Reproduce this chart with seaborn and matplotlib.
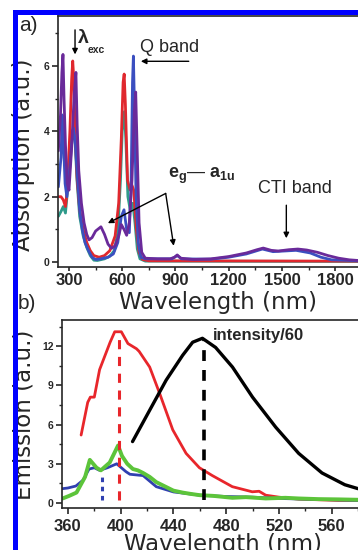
import matplotlib
matplotlib.use("Agg")
import numpy as np
import pandas as pd
import matplotlib.pyplot as plt
from matplotlib.patches import Rectangle
from matplotlib.ticker import MultipleLocator
import seaborn as sns

# ---- panel a: absorption spectra (wavelength nm, absorbance a.u.)
purple_nm = [240, 252, 260, 266, 272, 280, 290, 300, 315, 330, 339, 346, 355, 370, 385, 400, 413, 430,
             450, 480, 500, 520, 540, 560, 580, 595, 610, 625, 640, 655, 668, 676, 684, 695, 710, 730,
             800, 870, 895, 910, 930, 1000, 1100, 1200, 1300, 1360, 1395, 1440, 1480, 1540, 1590,
             1640, 1700, 1760, 1820, 1880, 1930]
purple_abs = [3.4, 4.5, 5.8, 6.35, 5.0, 3.6, 2.4, 2.2, 3.5, 5.2, 5.8, 4.2, 2.8, 1.8, 1.2, 0.85, 0.68, 0.75,
              0.95, 1.08, 0.85, 0.55, 0.42, 0.5, 0.8, 1.15, 1.0, 0.82, 1.2, 2.5, 4.6, 5.2, 3.5, 1.2, 0.3, 0.12,
              0.1, 0.1, 0.15, 0.22, 0.12, 0.08, 0.1, 0.17, 0.28, 0.38, 0.43, 0.36, 0.34, 0.38, 0.4,
              0.37, 0.3, 0.2, 0.12, 0.07, 0.05]
blue_nm = [240, 255, 262, 268, 278, 288, 300, 315, 325, 335, 345, 360, 375, 390, 410, 430, 450, 480,
           520, 550, 575, 595, 610, 625, 640, 650, 658, 663, 668, 678, 690, 705, 730, 880, 910, 935,
           1100, 1200, 1300, 1390, 1450, 1580, 1660, 1720, 1780, 1930]
blue_abs = [2.3, 3.2, 4.5, 3.8, 2.4, 2.0, 2.6, 3.6, 4.1, 3.7, 2.8, 1.6, 1.0, 0.6, 0.35, 0.15, 0.08, 0.1,
            0.15, 0.25, 0.6, 1.4, 1.6, 1.0, 0.9, 2.4, 5.5, 6.3, 5.0, 2.0, 0.6, 0.15, 0.1, 0.1, 0.2, 0.1,
            0.09, 0.15, 0.25, 0.4, 0.32, 0.36, 0.28, 0.15, 0.07, 0.04]
red_nm = [240, 255, 268, 280, 290, 305, 315, 321, 327, 335, 345, 360, 380, 400, 420, 440, 470, 500,
          530, 560, 580, 595, 605, 611, 618, 630, 645, 655, 665, 680, 695, 715, 750, 1930]
red_abs = [2.0, 2.0, 1.9, 1.7, 2.2, 4.0, 5.6, 6.15, 5.6, 4.0, 2.6, 1.6, 1.0, 0.6, 0.35, 0.2, 0.15, 0.2,
           0.35, 0.8, 1.8, 3.8, 5.5, 5.75, 4.8, 2.5, 2.2, 2.35, 2.2, 1.0, 0.3, 0.08, 0.04, 0.03]
teal_nm = [240, 255, 268, 280, 292, 305, 318, 327, 335, 345, 360, 380, 400, 420, 440, 460, 500, 530,
           555, 575, 590, 600, 612, 620, 632, 645, 660, 672, 685, 700, 730, 1930]
teal_abs = [1.4, 1.55, 1.7, 1.5, 2.2, 3.3, 4.0, 4.1, 3.6, 2.5, 1.4, 0.8, 0.45, 0.2, 0.06, 0.05, 0.1, 0.18,
            0.35, 0.9, 2.5, 4.0, 4.6, 3.8, 2.0, 1.6, 1.8, 1.2, 0.4, 0.1, 0.03, 0.02]

# ---- panel b: emission spectra (wavelength nm, emission a.u.)
red_em_nm = [370, 375, 377, 380, 384, 392, 395.5, 400.5, 405.5, 412, 414, 422, 429.5, 439.5, 449.6,
             459.7, 469.5, 484.7, 499.8, 505, 510, 520, 535, 550, 565, 580]
red_em = [5.2, 7.7, 8.1, 8.1, 10.2, 12.3, 13.1, 13.1, 12.2, 11.8, 11.6, 10.4, 8.4, 5.6, 3.8,
          2.7, 2.1, 1.25, 0.86, 0.9, 0.6, 0.45, 0.3, 0.25, 0.2, 0.2]
black_em_nm = [409, 422, 434.5, 447, 454.6, 462, 472, 484.8, 500, 517.6, 535, 552.7, 570, 580]
black_em = [4.7, 7.1, 9.4, 11.3, 12.3, 12.6, 11.9, 10.4, 8.1, 5.8, 3.8, 2.3, 1.4, 1.1]
blue_em_nm = [356, 360, 366, 371.5, 376, 380, 384, 390, 397, 404, 407, 417, 427, 440, 460, 480, 500,
              520, 540, 560, 580]
blue_em = [1.1, 1.15, 1.3, 1.75, 2.6, 2.7, 2.5, 2.7, 3.0, 2.4, 2.2, 2.1, 1.25, 0.85, 0.6, 0.5, 0.45,
           0.35, 0.3, 0.25, 0.2]
green_em_nm = [356, 361, 366.5, 373, 376.6, 381.7, 385, 391.7, 398, 401, 405, 409.3, 413, 417, 422,
               427, 433, 440, 447, 453, 460, 470, 484.7, 495, 510, 525, 535, 550, 565, 580]
green_em = [0.35, 0.55, 0.8, 2.0, 3.3, 2.7, 2.5, 3.1, 4.4, 3.6, 3.0, 2.6, 2.5, 2.3, 2.0,
            1.6, 1.3, 0.95, 0.8, 0.7, 0.6, 0.55, 0.4, 0.45, 0.35, 0.4, 0.35, 0.3, 0.28, 0.25]

# excitation-peak guide lines in panel b
peak_nm = [386, 399, 463]
peak_top = [2.2, 13.0, 12.5]

sns.set_style("ticks")
plt.rcParams["font.family"] = ["Liberation Sans", "DejaVu Sans"]
plt.rcParams["mathtext.fontset"] = "custom"
plt.rcParams["mathtext.rm"] = "Liberation Sans"
plt.rcParams["mathtext.bf"] = "Liberation Sans:bold"
plt.rcParams["axes.linewidth"] = 1.2

fig = plt.figure(figsize=(3.58, 5.5), dpi=100)
fig.patch.set_facecolor("white")

ax1 = fig.add_axes([58 / 358, 1 - 266.7 / 550, 1 - 58 / 358, (266.7 - 15.5) / 550])
ax2 = fig.add_axes([62 / 358, 1 - 508 / 550, 1 - 62 / 358, (508 - 320) / 550])

df_a = pd.concat([
    pd.DataFrame({"nm": teal_nm, "val": teal_abs, "s": "teal"}),
    pd.DataFrame({"nm": red_nm, "val": red_abs, "s": "red"}),
    pd.DataFrame({"nm": blue_nm, "val": blue_abs, "s": "blue"}),
    pd.DataFrame({"nm": purple_nm, "val": purple_abs, "s": "purple"}),
])
pal_a = {"teal": "#2e9a8a", "red": "#e0282e", "blue": "#3b4fc0", "purple": "#6a2a9a"}
sns.lineplot(data=df_a, x="nm", y="val", hue="s", palette=pal_a, lw=2.0, legend=False,
             estimator=None, sort=False, ax=ax1)

curves_b = [
    (red_em_nm, red_em, "#e8262b", 2.0),
    (blue_em_nm, blue_em, "#3040b0", 2.0),
    (green_em_nm, green_em, "#5cc43a", 2.8),
    (black_em_nm, black_em, "black", 2.4),
]
for xs, ys, c, w in curves_b:
    sns.lineplot(x=xs, y=ys, color=c, lw=w, estimator=None, sort=False, ax=ax2)

ax2.plot([peak_nm[0]] * 2, [0.2, peak_top[0]], color="#3040b0", lw=2.2, dashes=(1.5, 1.5))
ax2.plot([peak_nm[1]] * 2, [0.2, peak_top[1]], color="#e8262b", lw=2.2, dashes=(3, 2.5))
ax2.plot([peak_nm[2]] * 2, [0.2, peak_top[2]], color="black", lw=2.6, dashes=(3, 2.5))

# axes a
ax1.set_xlim(238, 1929)
ax1.set_ylim(-0.14, 7.54)
ax1.set_xticks([300, 600, 900, 1200, 1500, 1800],
               labels=["300", "600", "900", "1200", "1500", "1800"], fontweight="bold", fontsize=12)
ax1.set_yticks([0, 2, 4, 6], labels=["0", "2", "4", "6"], fontweight="bold", fontsize=7.5)
ax1.xaxis.set_minor_locator(MultipleLocator(150))
ax1.yaxis.set_minor_locator(MultipleLocator(1))
ax1.tick_params(axis="x", which="major", length=3, width=1.2, pad=1.5)
ax1.tick_params(axis="y", which="major", length=4, width=1.2, pad=2)
ax1.tick_params(which="minor", length=2.5, width=1)
ax1.spines["right"].set_visible(False)
ax1.set_xlabel("Wavelength (nm)", fontsize=16.5, family="DejaVu Sans")
ax1.set_ylabel("Absorption (a.u.)", fontsize=16.5, family="DejaVu Sans")
ax1.xaxis.set_label_coords(0.533, -0.097)
ax1.yaxis.set_label_coords(-0.077, 0.445)

arr = dict(arrowstyle="-|>", lw=1.0, color="black", mutation_scale=8, shrinkA=0, shrinkB=0)
ax1.annotate("", xy=(334, 6.35), xytext=(334, 7.1), arrowprops=arr)
ax1.text(352, 6.85, "λ", fontsize=14, fontweight="bold", va="center")
ax1.text(405, 6.5, "exc", fontsize=7.5, fontweight="bold", va="center")
ax1.text(699, 6.56, "Q band", fontsize=13, va="center")
ax1.annotate("", xy=(705, 6.14), xytext=(975, 6.14), arrowprops=arr)
ax1.text(856, 2.65, r"$\mathbf{e_g}$— $\mathbf{a_{1u}}$", fontsize=13, va="center")
ax1.annotate("", xy=(519, 1.19), xytext=(845, 2.1), arrowprops=arr)
ax1.annotate("", xy=(890, 0.5), xytext=(845, 2.1), arrowprops=arr)
ax1.text(1576, 2.26, "CTI band", fontsize=13, ha="center", va="center")
ax1.annotate("", xy=(1525, 0.73), xytext=(1525, 1.74), arrowprops=arr)

# axes b
ax2.set_xlim(355.5, 580)
ax2.set_ylim(-0.38, 14.0)
ax2.set_xticks([360, 400, 440, 480, 520, 560],
               labels=["360", "400", "440", "480", "520", "560"], fontweight="bold", fontsize=12)
ax2.set_yticks([0, 3, 6, 9, 12], labels=["0", "3", "6", "9", "12"], fontweight="bold", fontsize=7.5)
ax2.xaxis.set_minor_locator(MultipleLocator(20))
ax2.yaxis.set_minor_locator(MultipleLocator(1.5))
ax2.tick_params(axis="x", which="major", length=4, width=1.2, pad=4)
ax2.tick_params(axis="y", which="major", length=4, width=1.2, pad=2)
ax2.tick_params(which="minor", length=2.5, width=1)
ax2.spines["right"].set_visible(False)
ax2.set_xlabel("Wavelength (nm)", fontsize=16.5, family="DejaVu Sans")
ax2.set_ylabel("Emission (a.u.)", fontsize=16.5, family="DejaVu Sans")
ax2.xaxis.set_label_coords(0.544, -0.133)
ax2.yaxis.set_label_coords(-0.091, 0.495)
ax2.text(470, 12.8, "intensity/60", fontsize=12, fontweight="bold", va="center")

# panel letters and blue frame
fig.text(19 / 358, 1 - 16 / 550, "a)", fontsize=15, va="top")
fig.text(18 / 358, 1 - 294 / 550, "b)", fontsize=15, va="top")
fig.patches.append(Rectangle((13 / 358, 0), 5 / 358, 1 - 10 / 550, transform=fig.transFigure,
                             facecolor="#0000ff", edgecolor="none", zorder=10))
fig.patches.append(Rectangle((13 / 358, 1 - 15 / 550), 1, 5 / 550, transform=fig.transFigure,
                             facecolor="#0000ff", edgecolor="none", zorder=10))

fig.savefig("out.png", dpi=100)
